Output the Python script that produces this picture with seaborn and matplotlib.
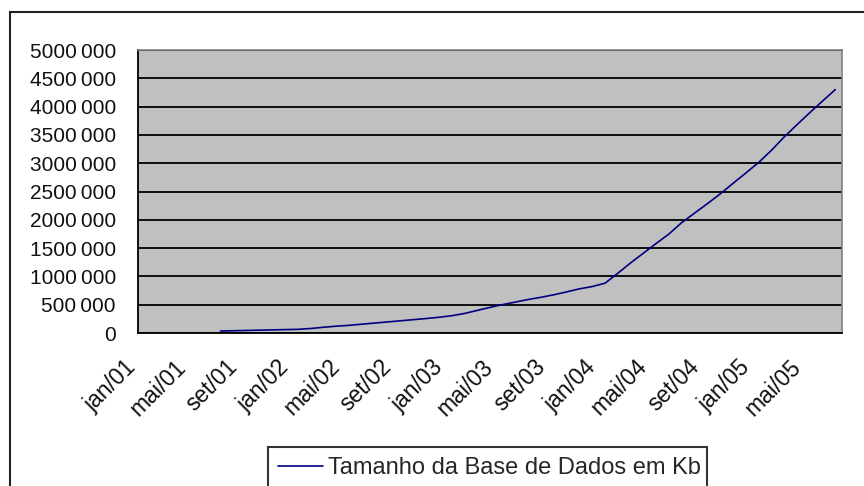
import pandas as pd
import seaborn as sns
import matplotlib.pyplot as plt
import matplotlib.transforms as mtrans
from matplotlib.patches import Rectangle
from matplotlib.ticker import FuncFormatter

# tamanho mensal da base (Kb), jul/01 .. jul/05
meses = pd.date_range("2001-07-01", "2005-07-01", freq="MS")
tamanho_kb = [35000, 40000, 45000, 50000, 55000, 60000, 65000,
              80000, 100000, 120000, 135000, 155000, 175000, 195000,
              215000, 235000, 255000, 277000, 305000, 345000, 395000,
              450000, 500000, 545000, 590000, 630000, 675000, 725000,
              780000, 820000, 880000, 1060000, 1235000, 1410000, 1580000,
              1750000, 1950000, 2120000, 2290000, 2460000, 2650000, 2830000,
              3020000, 3240000, 3460000, 3680000, 3890000, 4100000, 4300000]
rotulos = ["jan/01", "mai/01", "set/01", "jan/02", "mai/02", "set/02", "jan/03",
           "mai/03", "set/03", "jan/04", "mai/04", "set/04", "jan/05", "mai/05"]
serie = "Tamanho da Base de Dados em Kb"

df = pd.DataFrame({"mes": meses + pd.Timedelta(days=15), "kb": tamanho_kb})

sns.set_style("white")
plt.rcParams['font.family'] = ['Liberation Sans', 'DejaVu Sans']

fig = plt.figure(figsize=(8.64, 4.86), dpi=100)
ax = fig.add_axes([138/864, 1-333/486, 704/864, 283/486])
ax.set_facecolor("#c0c0c0")

sns.lineplot(data=df, x="mes", y="kb", color="#000080", lw=1.2, ax=ax, label=serie)

ax.set_xlim(pd.Timestamp("2001-01-01"), pd.Timestamp("2005-08-01"))
ax.set_ylim(0, 5000000)
ax.set_yticks(range(0, 5000001, 500000))

def fmt(v, pos):
    s = str(int(v))
    return s if len(s) <= 3 else s[:-3] + "\u2009" + s[-3:]
ax.yaxis.set_major_formatter(FuncFormatter(fmt))

ticks = pd.date_range("2001-01-01", periods=len(rotulos), freq="4MS")
ax.set_xticks(ticks)
ax.set_xticklabels(rotulos, rotation=45, ha="right", rotation_mode="anchor")

ax.grid(axis="y", color="black", lw=1.3)
ax.grid(axis="x", visible=False)
ax.set_axisbelow(True)
ax.tick_params(axis="both", direction="out", length=6, width=1.3, color="black",
               labelcolor="#111111")
ax.tick_params(axis="x", pad=10, labelsize=16.5)
ax.tick_params(axis="y", pad=10, labelsize=15)
ax.set_xlabel("")
ax.set_ylabel("")

# desloca um pouco os rótulos de data para a esquerda
desloc = mtrans.ScaledTranslation(-0.14, 0, fig.dpi_scale_trans)
for lab in ax.get_xticklabels():
    lab.set_transform(lab.get_transform() + desloc)

for s in ["left", "bottom"]:
    ax.spines[s].set_color("black")
    ax.spines[s].set_linewidth(1.3)
for s in ["top", "right"]:
    ax.spines[s].set_color("#808080")
    ax.spines[s].set_linewidth(1.2)

ax.get_legend().remove()
h, l = ax.get_legend_handles_labels()
leg = fig.legend(h, l, loc="upper left", bbox_to_anchor=(268/864, 0, 439/864, 1-447/486),
                 mode="expand", fontsize=17, frameon=True, fancybox=False,
                 edgecolor="black", borderpad=0.42, handlelength=1.9, handletextpad=0.2,
                 borderaxespad=0)
leg.get_frame().set_linewidth(1.5)

# moldura externa do gráfico (cortada à direita e em baixo)
fig.patches.append(Rectangle((10/864, -0.5), 2, 0.5 + 1 - 12/486, transform=fig.transFigure,
                             fill=False, edgecolor="#222222", lw=1.5))

fig.savefig("out.png", dpi=100)
